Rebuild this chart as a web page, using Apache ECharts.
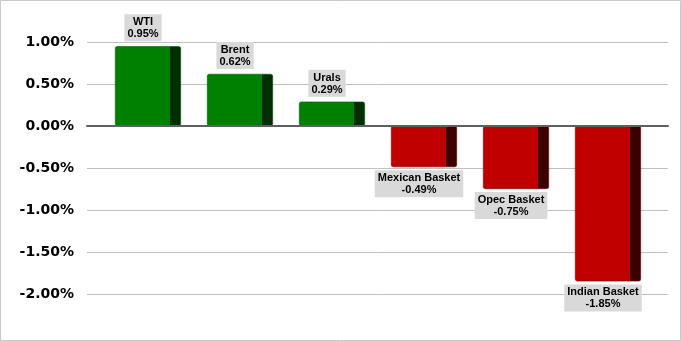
<!DOCTYPE html>
<html>
<head>
<meta charset="utf-8">
<script src="https://cdn.jsdelivr.net/npm/echarts@6/dist/echarts.min.js"></script>
<style>
html,body{margin:0;padding:0;background:#fff;}
#chart{width:681px;height:341px;}
</style>
</head>
<body>
<div id="chart"></div>
<script>
const categories = ['WTI', 'Brent', 'Urals', 'Mexican Basket', 'Opec Basket', 'Indian Basket'];
const values = [0.95, 0.62, 0.29, -0.49, -0.75, -1.85];
const yTicks = [-2.0, -1.5, -1.0, -0.5, 0.0, 0.5, 1.0];

function face(front, side) {
  const s = 0.84;
  return {
    type: 'linear', x: 0, y: 0, x2: 1, y2: 0,
    colorStops: [
      {offset: 0, color: front}, {offset: s, color: front},
      {offset: s, color: side}, {offset: 1, color: side}
    ]
  };
}

const barData = values.map((v, i) => ({
  value: v,
  name: categories[i],
  itemStyle: {
    color: v >= 0 ? face('#008000', '#002e00') : face('#c00000', '#3c0000'),
    borderRadius: 2,
    borderColor: v >= 0 ? '#005a00' : '#7a0000',
    borderWidth: 0.6
  },
  label: {
    position: v >= 0 ? 'top' : 'bottom',
    distance: v >= 0 ? 5 : 3
  }
}));

const chart = echarts.init(document.getElementById('chart'), null, {renderer: 'canvas'});
chart.setOption({
  animation: false,
  backgroundColor: '#fff',
  graphic: [{
    type: 'rect', z: 100,
    shape: {x: 0.5, y: 0.5, width: 680, height: 340},
    style: {fill: 'none', stroke: '#c9c9c9', lineWidth: 1}
  }],
  grid: [
    {left: 87, right: 13, top: 42, bottom: 47},
    {left: 102, right: 27, top: 42, bottom: 47}
  ],
  xAxis: [
    {
      gridIndex: 0, type: 'category', data: categories, z: 5,
      axisLine: {show: true, onZero: true, lineStyle: {color: '#5f5f5f', width: 2}},
      axisTick: {show: false}, axisLabel: {show: false}, splitLine: {show: false}
    },
    {
      gridIndex: 1, type: 'category', data: categories,
      axisLine: {show: false}, axisTick: {show: false}, axisLabel: {show: false}, splitLine: {show: false}
    }
  ],
  yAxis: [
    {
      gridIndex: 0, type: 'value', min: yTicks[0], max: yTicks[yTicks.length - 1], interval: 0.5,
      axisLine: {show: false}, axisTick: {show: false},
      splitLine: {show: true, lineStyle: {color: '#bfbfbf', width: 1}},
      axisLabel: {
        margin: 13, color: '#000', fontFamily: 'DejaVu Sans', fontWeight: 'bold', fontSize: 14,
        formatter: v => v.toFixed(2) + '%'
      }
    },
    {
      gridIndex: 1, type: 'value', min: yTicks[0], max: yTicks[yTicks.length - 1], interval: 0.5,
      axisLine: {show: false}, axisTick: {show: false}, splitLine: {show: false}, axisLabel: {show: false}
    }
  ],
  series: [{
    type: 'bar',
    xAxisIndex: 1, yAxisIndex: 1,
    barWidth: 66,
    data: barData,
    label: {
      show: true,
      offset: [-5, 0],
      formatter: p => p.name + '\n' + p.value.toFixed(2) + '%',
      fontFamily: 'Liberation Sans, Arial, sans-serif',
      fontWeight: 'bold',
      fontSize: 11,
      lineHeight: 12,
      color: '#000',
      backgroundColor: '#d9d9d9',
      padding: [2, 3, 1, 3],
      align: 'center'
    }
  }]
});
</script>
</body>
</html>
